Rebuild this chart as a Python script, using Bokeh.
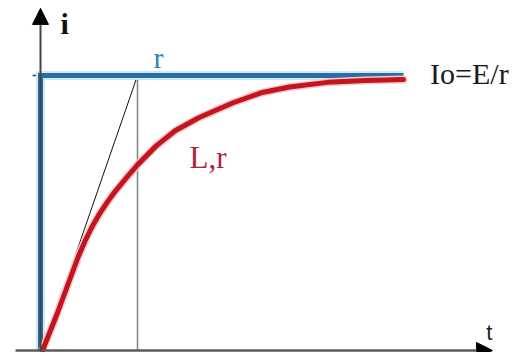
from bokeh.plotting import figure
from bokeh.models import Range1d, Arrow, NormalHead, Label
from bokeh.embed import file_html
from bokeh.resources import INLINE

# ---- data (t in units of tau, i in units of Io=E/r) ----
red_t = [0, 0.15, 0.3, 0.375, 0.45, 0.525, 0.6, 0.675, 0.75, 0.9, 1.0, 1.2, 1.4, 1.65, 2.0, 2.3, 2.6, 3.0, 3.4, 3.8]
red_i = [0, 0.13, 0.27, 0.34, 0.40, 0.452, 0.497, 0.536, 0.572, 0.635, 0.675, 0.745, 0.80, 0.847, 0.90, 0.937, 0.958, 0.975, 0.982, 0.985]

blue_t = [-0.021, -0.021, 3.80]
blue_i = [0, 1, 1]

tangent_t = [0, 1]
tangent_i = [0, 1]

tau_t = [1, 1]
tau_i = [0, 1]

tick_t = [-0.105, -0.021]
tick_i = [1, 1]

labels = ["i", "t", "r", "L,r", "Io=E/r"]

p = figure(width=511, height=352, output_backend="svg", toolbar_location=None,
           x_range=Range1d(-0.4421, 4.9368), y_range=Range1d(-0.00727, 1.2727),
           min_border=0, outline_line_color=None)
p.axis.visible = False
p.grid.visible = False
p.background_fill_color = "white"
p.border_fill_color = "white"

# axes as arrows
p.add_layout(Arrow(end=NormalHead(size=16, fill_color="black", line_color="black"),
                   x_start=-0.284, y_start=0, x_end=4.737, y_end=0,
                   line_color="#5a5a5a", line_width=2.5))
p.add_layout(Arrow(end=NormalHead(size=16, fill_color="black", line_color="black"),
                   x_start=-0.021, y_start=0, x_end=-0.021, y_end=1.244,
                   line_color="#444444", line_width=2))
p.line(tick_t, tick_i, line_color="#444444", line_width=1.5)

# tau marker and tangent
p.line(tau_t, tau_i, line_color="#808080", line_width=1.5)
p.line(tangent_t, tangent_i, line_color="#111111", line_width=1)

# blue step (r only) with light halo
p.line(blue_t, blue_i, line_color="#cbe9f7", line_width=9, line_join="miter")
p.line(blue_t, blue_i, line_color="#2b6da5", line_width=5, line_join="miter")

# red curve (L,r) with light halo
p.line(red_t, red_i, line_color="#f6c9cc", line_width=8, line_cap="round", line_join="round")
p.line(red_t, red_i, line_color="#c4141d", line_width=5, line_cap="round", line_join="round")

serif = "Liberation Serif"
p.add_layout(Label(x=0.19, y=1.19, text=labels[0], text_font=serif, text_font_size="30px",
                   text_color="#111111", text_baseline="alphabetic", text_font_style="bold"))
p.add_layout(Label(x=4.67, y=0.065, text=labels[1], text_font="Liberation Sans", text_font_size="22px",
                   text_color="#222222", text_baseline="alphabetic"))
p.add_layout(Label(x=1.168, y=1.066, text=labels[2], text_font=serif, text_font_size="30px",
                   text_color="#2f84b8", text_baseline="alphabetic"))
p.add_layout(Label(x=1.547, y=0.70, text=labels[3], text_font=serif, text_font_size="31px",
                   text_color="#b0233a", text_baseline="alphabetic"))
p.add_layout(Label(x=4.08, y=1.007, text=labels[4], text_font=serif, text_font_size="30px",
                   text_color="#1a1a1a", text_baseline="alphabetic"))

open("out.html", "w").write(file_html(p, INLINE))
